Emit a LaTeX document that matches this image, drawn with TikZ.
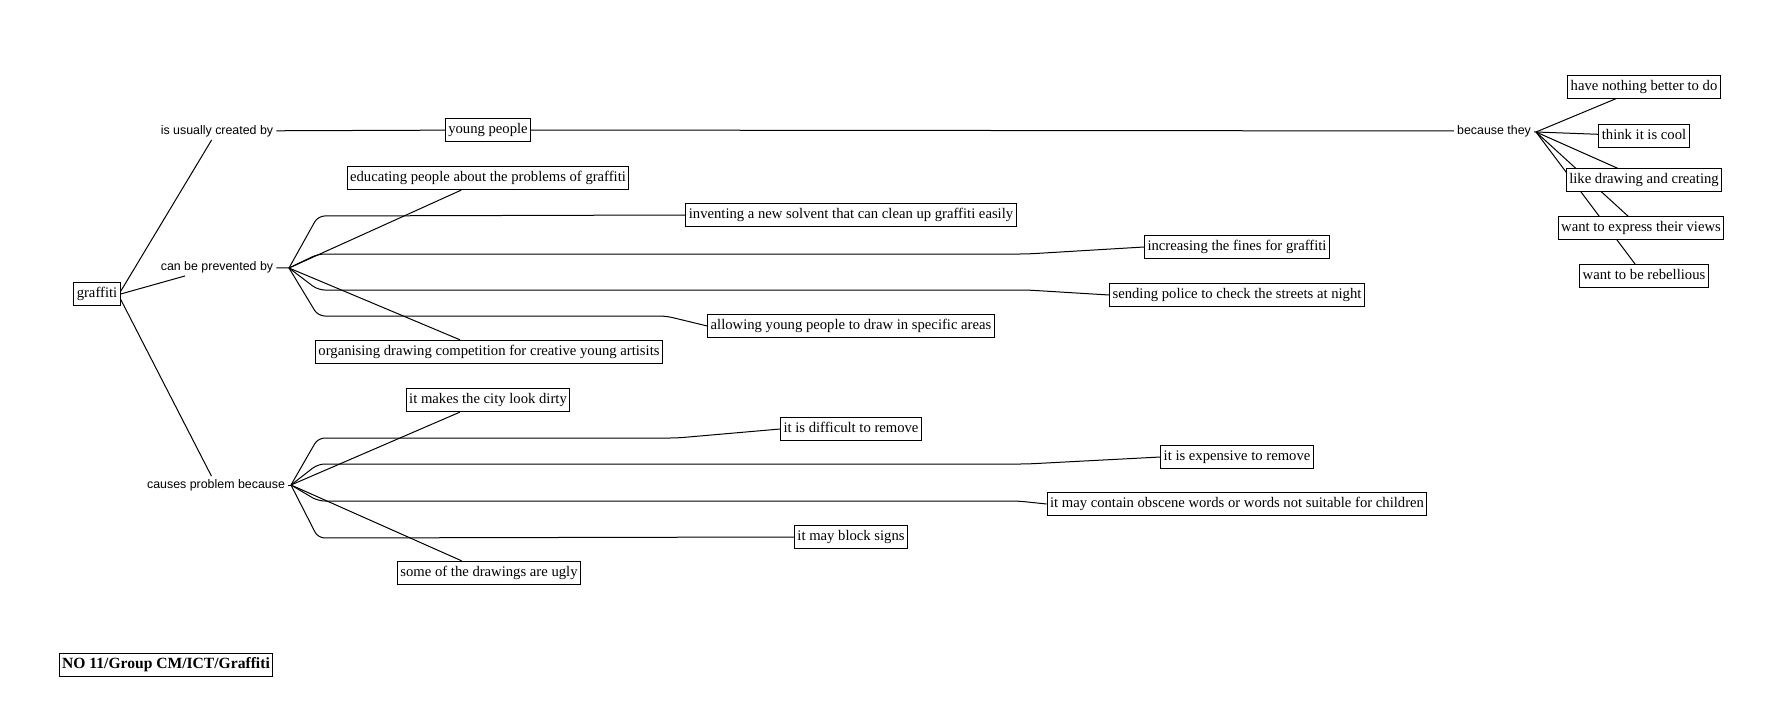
\documentclass[tikz,border=0pt]{standalone}
\usepackage{fontspec}
\setmainfont{Liberation Serif}
\setsansfont{Liberation Sans}
\usetikzlibrary{backgrounds}
\tikzset{every on background layer/.style={line width=0.75pt}}

\begin{document}
\begin{tikzpicture}[x=0.75pt,y=-0.75pt,line width=0.75pt,
  concept/.style={draw,fill=white,font=\fontsize{11}{12}\selectfont,inner xsep=2.2pt,inner ysep=3.5pt,text height=7.9pt,text depth=2.6pt},
  linkword/.style={font=\sffamily\fontsize{9.3}{10}\selectfont,inner sep=2pt},
  branch/.style={rounded corners=5pt}]
\useasboundingbox (0,-2) rectangle (1770,715);
% concepts
\node[concept] (graffiti) at (97,292) {graffiti};
\node[concept] (young) at (488,128) {young people};
\node[concept] (educating) at (488,176) {educating people about the problems of graffiti};
\node[concept] (inventing) at (851,213) {inventing a new solvent that can clean up graffiti easily};
\node[concept] (increasing) at (1237,245) {increasing the fines for graffiti};
\node[concept] (sending) at (1237,293) {sending police to check the streets at night};
\node[concept] (allowing) at (851,324) {allowing young people to draw in specific areas};
\node[concept] (organising) at (489,350) {organising drawing competition for creative young artisits};
\node[concept] (dirty) at (488,398) {it makes the city look dirty};
\node[concept] (difficult) at (851,427) {it is difficult to remove};
\node[concept] (expensive) at (1237,455) {it is expensive to remove};
\node[concept] (obscene) at (1237,502) {it may contain obscene words or words not suitable for children};
\node[concept] (block) at (851,535) {it may block signs};
\node[concept] (ugly) at (489,571) {some of the drawings are ugly};
\node[concept] (nothing) at (1644,85) {have nothing better to do};
\node[concept] (cool) at (1644,134) {think it is cool};
\node[concept] (liking) at (1644,178) {like drawing and creating};
\node[concept] (express) at (1641,226) {want to express their views};
\node[concept] (rebel) at (1644,274) {want to be rebellious};
% linking phrases
\node[linkword] (created) at (217,129) {is usually created by};
\node[linkword] (prevented) at (217,265) {can be prevented by};
\node[linkword] (causes) at (216,483) {causes problem because};
\node[linkword] (because) at (1494,129) {because they};
\coordinate (hubA) at (289,266);
\coordinate (hubB) at (291,483);
\coordinate (hubC) at (1536,130);
% title
\node[concept,font=\bfseries\fontsize{11.7}{12}\selectfont] (title) at (166,663) {NO 11/Group CM/ICT/Graffiti};

\draw ([yshift=2pt]graffiti.east) -- (created);
\draw (graffiti.east) -- (prevented);
\draw ([yshift=-4pt]graffiti.east) -- (causes);
\draw (created) -- (young);
\draw (young) -- (because);
\draw (prevented) -- (hubA);
\draw (causes) -- (hubB);
\draw (because) -- (hubC);

% can be prevented by
\draw (hubA) -- (educating);
\draw (hubA) -- (organising);
\draw[branch] (hubA) -- ++(29,-52) -- (inventing.west);
\draw[branch] (hubA) -- ++(29,-14) -- ++(709,0) -- (increasing.west);
\draw[branch] (hubA) -- ++(29,22) -- ++(709,0) -- (sending.west);
\draw[branch] (hubA) -- ++(29,48) -- ++(348,0) -- (allowing.west);

% causes problem because
\draw (hubB) -- (dirty);
\draw (hubB) -- (ugly);
\draw[branch] (hubB) -- ++(27,-47) -- ++(359,0) -- (difficult.west);
\draw[branch] (hubB) -- ++(27,-21) -- ++(709,0) -- (expensive.west);
\draw[branch] (hubB) -- ++(27,16) -- ++(700,0) -- (obscene.west);
\draw[branch] (hubB) -- ++(27,53) -- (block.west);

% because they
\begin{scope}[on background layer]
\draw (hubC) -- (nothing.center);
\draw (hubC) -- (cool.center);
\draw (hubC) -- (liking.center);
\draw (hubC) -- (express.center);
\draw (hubC) -- (rebel.center);
\end{scope}
\end{tikzpicture}
\end{document}
